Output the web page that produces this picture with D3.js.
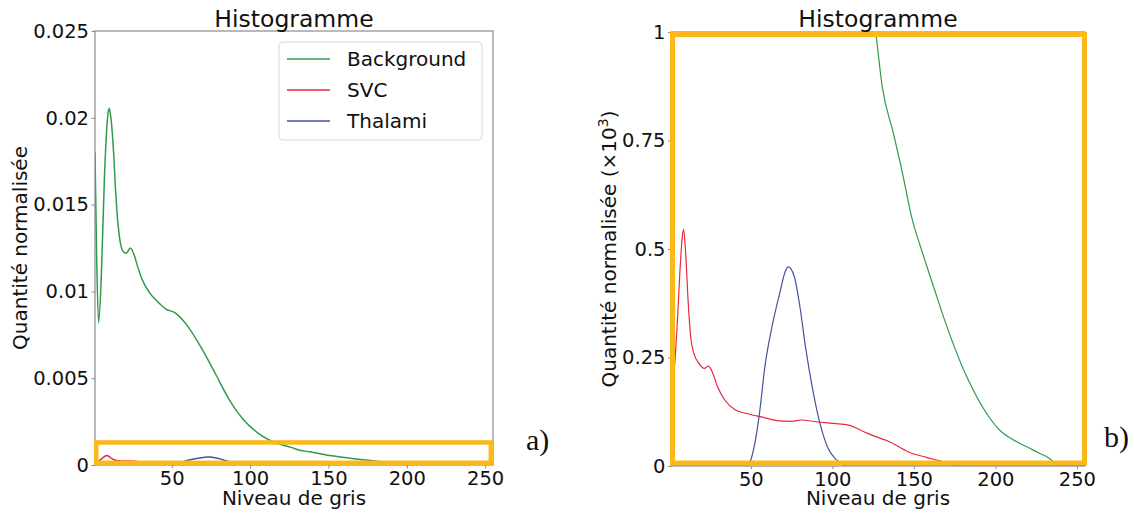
<!DOCTYPE html>
<html>
<head>
<meta charset="utf-8">
<script src="https://cdn.jsdelivr.net/npm/d3@7"></script>
<style>
  html, body { margin: 0; padding: 0; background: #ffffff; }
  svg { display: block; font-family: "DejaVu Sans", sans-serif; }
</style>
</head>
<body>
<svg id="chart" width="1134" height="516"></svg>
<script>
// ---------------- DATA ----------------
const seriesNames = ["Background", "SVC", "Thalami"];
const seriesColors = ["#2f9b4a", "#e8283f", "#4652a4"];

// Background (normalised quantity)
const backgroundLevels = [1, 2, 3.3, 5, 7, 9, 10, 11, 13, 14, 15, 17, 19, 21, 23.5, 26, 28, 31, 36, 41, 46, 52.4, 59.3, 68.5, 77.6, 86.8, 95.9, 105, 116.5, 126.6, 130.6, 137.4, 143, 148.6, 155.4, 162.1, 168.9, 175.6, 182.4, 189.1, 195.9, 202.6, 209.3, 218.3, 227.3, 232.9, 237.4, 239, 255];
const backgroundValues = [0.0180, 0.0122, 0.0082, 0.0108, 0.0165, 0.0200, 0.02055, 0.0201, 0.0178, 0.0160, 0.0146, 0.0129, 0.0123, 0.0122, 0.0125, 0.0121, 0.0115, 0.0107, 0.0099, 0.0094, 0.0090, 0.00875, 0.0081, 0.0068, 0.0053, 0.00374, 0.00259, 0.00184, 0.00127, 0.00100, 0.000874, 0.000767, 0.000675, 0.000574, 0.00049, 0.000413, 0.000336, 0.000267, 0.000206, 0.000156, 0.000114, 0.000083, 0.000064, 0.000046, 0.000029, 0.000018, 0.000005, 0, 0];

// SVC
const svcLevels = [1, 3, 5, 6.5, 8, 8.7, 10, 11.5, 13, 15, 18, 21.5, 24, 26.5, 29.5, 34, 40.5, 47.5, 56.5, 67.5, 75, 81, 90, 101, 110, 119.4, 127, 135, 146.3, 157.6, 166.6, 172, 176, 255];
const svcValues = [1.4e-4, 2.2e-4, 3.4e-4, 4.5e-4, 5.3e-4, 5.45e-4, 4.9e-4, 3.8e-4, 3.0e-4, 2.6e-4, 2.37e-4, 2.25e-4, 2.3e-4, 2.15e-4, 1.83e-4, 1.52e-4, 1.29e-4, 1.21e-4, 1.13e-4, 1.04e-4, 1.03e-4, 1.06e-4, 1.02e-4, 0.98e-4, 0.94e-4, 0.79e-4, 0.67e-4, 0.56e-4, 0.33e-4, 0.20e-4, 0.115e-4, 0.05e-4, 0, 0];

// Thalami
const thalamiLevels = [1, 48, 49, 52, 55.3, 58.6, 63.2, 67.7, 71.1, 72.9, 74.5, 76.7, 80.1, 83.5, 88, 92.4, 97, 101.4, 105.9, 108, 255];
const thalamiValues = [0, 0, 0.05e-4, 0.44e-4, 1.22e-4, 2.29e-4, 3.25e-4, 3.98e-4, 4.48e-4, 4.59e-4, 4.55e-4, 4.36e-4, 3.67e-4, 2.75e-4, 1.75e-4, 0.98e-4, 0.44e-4, 0.18e-4, 0.06e-4, 0, 0];

// Axis ticks
const xTicks = [50, 100, 150, 200, 250];
const leftYTicks = [0, 0.005, 0.01, 0.015, 0.02, 0.025];
const leftYTickLabels = ["0", "0.005", "0.01", "0.015", "0.02", "0.025"];
const rightYTicks = [0, 0.00025, 0.0005, 0.00075, 0.001];
const rightYTickLabels = ["0", "0.25", "0.5", "0.75", "1"];

const titleText = "Histogramme";
const xLabelText = "Niveau de gris";
const leftYLabelText = "Quantité normalisée";
const rightYLabelText = "Quantité normalisée (×10";

// ---------------- DRAW ----------------
const svg = d3.select("#chart");
const series = [
  { levels: backgroundLevels, values: backgroundValues },
  { levels: svcLevels, values: svcValues },
  { levels: thalamiLevels, values: thalamiValues }
];

const frameColor = "#8a8a8a";
const orange = "#fbb818";

function drawPanel(opt) {
  const { id, x, y, yTicks, yTickLabels, lineWidth, tickLen, yLabelX, panelLetter, letterX, letterY } = opt;
  const [x0, x1] = x.range();
  const [yb, yt] = y.range();
  const g = svg.append("g");

  g.append("clipPath").attr("id", "clip-" + id)
    .append("rect").attr("x", x0).attr("y", yt).attr("width", x1 - x0).attr("height", yb - yt);

  // lines
  const lines = g.append("g").attr("clip-path", `url(#clip-${id})`);
  series.forEach((s, i) => {
    const pts = s.levels.map((l, k) => [l, s.values[k]]);
    const line = d3.line().x(d => x(d[0])).y(d => y(d[1])).curve(d3.curveMonotoneX);
    lines.append("path").attr("d", line(pts))
      .attr("fill", "none").attr("stroke", seriesColors[i])
      .attr("stroke-width", lineWidth).attr("stroke-linejoin", "round");
  });

  // frame
  g.append("rect").attr("x", x0).attr("y", yt).attr("width", x1 - x0).attr("height", yb - yt)
    .attr("fill", "none").attr("stroke", frameColor).attr("stroke-width", 1.2);

  // axes
  const xAxis = d3.axisBottom(x).tickValues(xTicks).tickFormat(d3.format("d"))
    .tickSize(tickLen).tickSizeOuter(0).tickPadding(3);
  const gx = g.append("g").attr("transform", `translate(0,${yb})`).call(xAxis);
  const yAxis = d3.axisLeft(y).tickValues(yTicks).tickFormat((d, i) => yTickLabels[i])
    .tickSize(tickLen).tickSizeOuter(0).tickPadding(2.5);
  const gy = g.append("g").attr("transform", `translate(${x0},0)`).call(yAxis);
  [gx, gy].forEach(a => {
    a.select(".domain").remove();
    a.selectAll(".tick line").attr("stroke", frameColor).attr("stroke-width", 1);
    a.selectAll(".tick text").attr("fill", "#111").style("font-size", "19.5px")
      .style("font-family", "'DejaVu Sans', sans-serif");
  });

  // title
  g.append("text").attr("x", (x0 + x1) / 2).attr("y", 27).attr("text-anchor", "middle")
    .style("font-size", "23.5px").attr("fill", "#111").text(titleText);
  // x label
  g.append("text").attr("x", (x0 + x1) / 2).attr("y", 505).attr("text-anchor", "middle")
    .style("font-size", "20px").attr("fill", "#111").text(xLabelText);
  // y label
  const yl = g.append("text").attr("transform", `translate(${yLabelX},${(yb + yt) / 2}) rotate(-90)`)
    .attr("text-anchor", "middle").style("font-size", "20px").attr("fill", "#111");
  if (opt.superscript) {
    yl.append("tspan").text(rightYLabelText);
    yl.append("tspan").attr("dy", -8).style("font-size", "14px").text("3");
    yl.append("tspan").attr("dy", 8).text(")");
  } else {
    yl.text(leftYLabelText);
  }

  // panel letter
  g.append("text").attr("x", letterX).attr("y", letterY)
    .style("font-family", "'Liberation Serif', 'Times New Roman', serif")
    .style("font-size", "30px").attr("fill", "#111").text(panelLetter);
  return g;
}

// Left panel
const xL = d3.scaleLinear().domain([1, 255]).range([95, 493]);
const yL = d3.scaleLinear().domain([0, 0.025]).range([465, 31]);
const gL = drawPanel({ id: "L", x: xL, y: yL, yTicks: leftYTicks, yTickLabels: leftYTickLabels,
  lineWidth: 1.5, tickLen: 3.5, yLabelX: 27, panelLetter: "a)", letterX: 526, letterY: 450 });

// Right panel
const xR = d3.scaleLinear().domain([1, 255]).range([671, 1085]);
const yR = d3.scaleLinear().domain([0, 0.001]).range([466, 32]);
const gR = drawPanel({ id: "R", x: xR, y: yR, yTicks: rightYTicks, yTickLabels: rightYTickLabels,
  lineWidth: 1.2, tickLen: 3, yLabelX: 616, panelLetter: "b)", letterX: 1104, letterY: 447, superscript: true });

// Legend (left panel)
const lg = gL.append("g");
lg.append("rect").attr("x", 279).attr("y", 42).attr("width", 203).attr("height", 98)
  .attr("rx", 4).attr("fill", "#fff").attr("fill-opacity", 0.9)
  .attr("stroke", "#d8d8d8").attr("stroke-width", 1);
seriesNames.forEach((n, i) => {
  const yy = 59 + i * 31;
  lg.append("line").attr("x1", 287).attr("x2", 330).attr("y1", yy).attr("y2", yy)
    .attr("stroke", seriesColors[i]).attr("stroke-width", 1.5);
  lg.append("text").attr("x", 347).attr("y", yy + 7).style("font-size", "20px")
    .attr("fill", "#111").text(n);
});

// Orange zoom rectangles
const lx0 = xL.range()[0] + 1.2, lx1 = xL.range()[1] - 2.2;
gL.append("rect").attr("x", lx0).attr("y", yL(0.0013)).attr("width", lx1 - lx0)
  .attr("height", yL(0) - 2.2 - yL(0.0013))
  .attr("fill", "none").attr("stroke", orange).attr("stroke-width", 4.5);
const rx0 = xR.range()[0] + 1.5, rx1 = xR.range()[1] - 0.5;
const ry0 = yR(0.001) + 2.5, ry1 = yR(0) - 3;
gR.append("rect").attr("x", rx0).attr("y", ry0).attr("width", rx1 - rx0).attr("height", ry1 - ry0)
  .attr("fill", "none").attr("stroke", orange).attr("stroke-width", 5);
</script>
</body>
</html>
